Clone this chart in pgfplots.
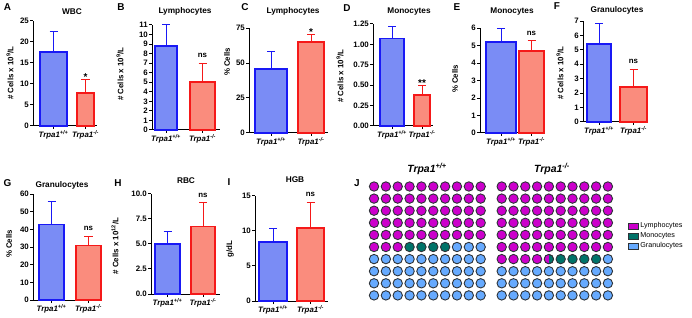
\documentclass[border=0pt]{standalone}
\usepackage{fontspec}
\setmainfont{Liberation Sans}
\usepackage{pgfplots}
\pgfplotsset{compat=1.18}
\usetikzlibrary{plotmarks}
\pgfdeclareplotmark{lefthalf}{%
  \pgfpathmoveto{\pgfqpoint{0pt}{\pgfplotmarksize}}%
  \pgfpatharc{90}{270}{\pgfplotmarksize}%
  \pgfpathclose
  \pgfusepathqfill}
\definecolor{bfill}{RGB}{122,140,245}
\definecolor{bedge}{RGB}{25,25,245}
\definecolor{rfill}{RGB}{250,140,125}
\definecolor{redge}{RGB}{245,25,25}
\definecolor{magC}{RGB}{204,0,204}
\definecolor{tealC}{RGB}{0,115,105}
\definecolor{lbC}{RGB}{102,170,255}
\definecolor{outC}{RGB}{45,50,55}
\pgfplotsset{
  barpanel/.style={
    scale only axis, anchor=south west, clip=false,
    axis lines=left, xmin=0, ymin=0,
    axis line style={-, black, line width=1bp},
    tick align=outside, major tick length=3bp,
    tick style={black, line width=1bp},
    tick label style={font=\bfseries\fontsize{7.9}{8}\selectfont},
    yticklabel style={inner sep=1bp},
    xticklabel style={inner sep=1.5bp},
    /pgf/number format/assume math mode=true,
    xticklabels={{\itshape Trpa1\textsuperscript{+/+}},{\itshape Trpa1\textsuperscript{-/-}}},
  },
  bluebar/.style={ybar, bar shift=0pt, fill=bfill, draw=bedge, line width=1.6bp,
    error bars/y dir=plus, error bars/y explicit,
    error bars/error bar style={bedge, line width=1bp},
    error bars/error mark options={bedge, line width=1bp, mark size=4bp, rotate=90}},
  redbar/.style={ybar, bar shift=0pt, fill=rfill, draw=redge, line width=1.6bp,
    error bars/y dir=plus, error bars/y explicit,
    error bars/error bar style={redge, line width=1bp},
    error bars/error mark options={redge, line width=1bp, mark size=4bp, rotate=90}},
  waffle/.style={scale only axis, anchor=south west, xmin=0.5, xmax=10.5, ymin=0.5, ymax=10.5,
    hide axis, clip=false},
}
\tikzset{
  sig/.style={font=\bfseries\fontsize{7.9}{8}\selectfont, anchor=base, inner sep=0pt, yshift=5.5bp},
  star/.style={font=\bfseries\fontsize{10}{10}\selectfont, anchor=base, inner sep=0pt, yshift=-1bp},
  plet/.style={font=\bfseries\fontsize{10}{12}\selectfont, anchor=base, inner sep=0pt},
  ptit/.style={font=\bfseries\fontsize{8.3}{10}\selectfont, anchor=base, inner sep=0pt},
  ylab/.style={font=\bfseries\fontsize{7.9}{9}\selectfont, rotate=90, inner sep=0pt},
}
\begin{document}
\begin{tikzpicture}
\useasboundingbox (0,0) rectangle (692bp,318bp);
% A
\begin{axis}[barpanel, at={(33bp,192bp)}, width=64bp, height=105bp, xmax=64, ymax=25,
  ytick={0,5,10,15,20,25}, xtick={20.5,52.5}]
\addplot[bluebar, bar width=27] coordinates {(20.5,17.6) +- (0,4.9)};
\addplot[redbar, bar width=17] coordinates {(52.5,7.8) +- (0,3.2)};
\node[star] at (axis cs:52.5,11.0) {*};
\end{axis}
% B
\begin{axis}[barpanel, at={(152bp,188bp)}, width=68bp, height=105bp, xmax=68, ymax=11,
  ytick={0,1,2,3,4,5,6,7,8,9,10,11}, xtick={14,50.5}]
\addplot[bluebar, bar width=22] coordinates {(14,8.8) +- (0,2.2)};
\addplot[redbar, bar width=25] coordinates {(50.5,5.0) +- (0,2.0)};
\node[sig] at (axis cs:50.5,7.0) {ns};
\end{axis}
% C
\begin{axis}[barpanel, at={(249bp,185bp)}, width=79bp, height=105bp, xmax=79, ymax=75,
  ytick={0,25,50,75}, xtick={22,62}]
\addplot[bluebar, bar width=32] coordinates {(22,45.7) +- (0,12.2)};
\addplot[redbar, bar width=26] coordinates {(62,65.0) +- (0,5.7)};
\node[star] at (axis cs:62,70.7) {*};
\end{axis}
% D
\begin{axis}[barpanel, at={(373bp,192bp)}, width=60bp, height=102bp, xmax=60, ymax=1.25,
  ytick={0,0.25,0.5,0.75,1,1.25}, yticklabel style={/pgf/number format/.cd, fixed, fixed zerofill, precision=2},
  xtick={19,49}]
\addplot[bluebar, bar width=24] coordinates {(19,1.07) +- (0,0.145)};
\addplot[redbar, bar width=16] coordinates {(49,0.38) +- (0,0.12)};
\node[star] at (axis cs:49,0.50) {**};
\end{axis}
% E
\begin{axis}[barpanel, at={(480bp,185bp)}, width=65bp, height=105bp, xmax=65, ymax=6,
  ytick={0,1,2,3,4,5,6}, xtick={21,51.5}]
\addplot[bluebar, bar width=30] coordinates {(21,5.2) +- (0,0.77)};
\addplot[redbar, bar width=25] coordinates {(51.5,4.7) +- (0,0.56)};
\node[sig] at (axis cs:51.5,5.26) {ns};
\end{axis}
% F
\begin{axis}[barpanel, at={(583bp,196bp)}, width=65bp, height=101bp, xmax=65, ymax=7,
  ytick={0,1,2,3,4,5,6,7}, xtick={16,50.5}]
\addplot[bluebar, bar width=24] coordinates {(16,5.4) +- (0,1.4)};
\addplot[redbar, bar width=27] coordinates {(50.5,2.43) +- (0,1.22)};
\node[sig] at (axis cs:50.5,3.65) {ns};
\end{axis}
% G
\begin{axis}[barpanel, at={(33bp,18bp)}, width=69bp, height=106bp, xmax=69, ymax=60,
  ytick={0,10,20,30,40,50,60}, xtick={18.5,55.5}]
\addplot[bluebar, bar width=25] coordinates {(18.5,42.8) +- (0,12.9)};
\addplot[redbar, bar width=25] coordinates {(55.5,30.8) +- (0,5.3)};
\node[sig] at (axis cs:55.5,36.1) {ns};
\end{axis}
% H
\begin{axis}[barpanel, at={(151bp,24bp)}, width=69bp, height=100bp, xmax=69, ymax=10,
  ytick={0,2.5,5,7.5,10}, yticklabel style={/pgf/number format/.cd, fixed, fixed zerofill, precision=1},
  xtick={16.5,52}]
\addplot[bluebar, bar width=25] coordinates {(16.5,5.0) +- (0,1.2)};
\addplot[redbar, bar width=24] coordinates {(52,6.75) +- (0,2.35)};
\node[sig] at (axis cs:52,9.1) {ns};
\end{axis}
% I
\begin{axis}[barpanel, at={(255bp,17bp)}, width=73bp, height=105bp, xmax=73, ymax=15,
  ytick={0,5,10,15}, xtick={18,55.5}]
\addplot[bluebar, bar width=28] coordinates {(18,8.43) +- (0,1.87)};
\addplot[redbar, bar width=27] coordinates {(55.5,10.4) +- (0,3.7)};
\node[sig] at (axis cs:55.5,14.1) {ns};
\end{axis}
% J left waffle
\begin{axis}[waffle, at={(368.1bp,16.55bp)}, width=118.5bp, height=121bp]
\addplot[only marks, mark=*, mark size=4.7bp, mark options={fill=magC, draw=outC, line width=0.9bp}] coordinates {
(1,10)(2,10)(3,10)(4,10)(5,10)(6,10)(7,10)(8,10)(9,10)(10,10)
(1,9)(2,9)(3,9)(4,9)(5,9)(6,9)(7,9)(8,9)(9,9)(10,9)
(1,8)(2,8)(3,8)(4,8)(5,8)(6,8)(7,8)(8,8)(9,8)(10,8)
(1,7)(2,7)(3,7)(4,7)(5,7)(6,7)(7,7)(8,7)(9,7)(10,7)
(1,6)(2,6)(3,6)(4,6)(5,6)(6,6)(7,6)(8,6)(9,6)(10,6)
(1,5)(2,5)(3,5)};
\addplot[only marks, mark=*, mark size=4.7bp, mark options={fill=tealC, draw=outC, line width=0.9bp}] coordinates {
(4,5)(5,5)(6,5)(7,5)};
\addplot[only marks, mark=*, mark size=4.7bp, mark options={fill=lbC, draw=outC, line width=0.9bp}] coordinates {
(8,5)(9,5)(10,5)
(1,4)(2,4)(3,4)(4,4)(5,4)(6,4)(7,4)(8,4)(9,4)(10,4)
(1,3)(2,3)(3,3)(4,3)(5,3)(6,3)(7,3)(8,3)(9,3)(10,3)
(1,2)(2,2)(3,2)(4,2)(5,2)(6,2)(7,2)(8,2)(9,2)(10,2)
(1,1)(2,1)(3,1)(4,1)(5,1)(6,1)(7,1)(8,1)(9,1)(10,1)};
\end{axis}
% J right waffle
\begin{axis}[waffle, at={(495.8bp,16.55bp)}, width=118bp, height=121bp,
  legend style={at={(1.12,0.541)}, anchor=west, draw=none, fill=none,
    font=\fontsize{7.2}{8}\selectfont, inner sep=0pt, row sep=0.5bp, nodes={inner sep=1.5bp}},
  legend cell align=left,
  legend image code/.code={\draw[#1] (0bp,-3bp) rectangle (10bp,3bp);}]
\addlegendimage{fill=magC, draw=outC, line width=0.7bp}
\addlegendentry{Lymphocytes}
\addlegendimage{fill=tealC, draw=outC, line width=0.7bp}
\addlegendentry{Monocytes}
\addlegendimage{fill=lbC, draw=outC, line width=0.7bp}
\addlegendentry{Granulocytes}
\addplot[forget plot, only marks, mark=*, mark size=4.7bp, mark options={fill=magC, draw=outC, line width=0.9bp}] coordinates {
(1,10)(2,10)(3,10)(4,10)(5,10)(6,10)(7,10)(8,10)(9,10)(10,10)
(1,9)(2,9)(3,9)(4,9)(5,9)(6,9)(7,9)(8,9)(9,9)(10,9)
(1,8)(2,8)(3,8)(4,8)(5,8)(6,8)(7,8)(8,8)(9,8)(10,8)
(1,7)(2,7)(3,7)(4,7)(5,7)(6,7)(7,7)(8,7)(9,7)(10,7)
(1,6)(2,6)(3,6)(4,6)(5,6)(6,6)(7,6)(8,6)(9,6)(10,6)
(1,5)(2,5)(3,5)(4,5)(5,5)(6,5)(7,5)(8,5)(9,5)(10,5)
(1,4)(2,4)(3,4)(4,4)};
\addplot[forget plot, only marks, mark=*, mark size=4.7bp, mark options={fill=tealC, draw=none}] coordinates {(5,4)};
\addplot[forget plot, only marks, mark=lefthalf, mark size=4.7bp, mark options={fill=magC, draw=none}] coordinates {(5,4)};
\addplot[forget plot, only marks, mark=o, mark size=4.7bp, mark options={draw=outC, line width=0.9bp}] coordinates {(5,4)};
\addplot[forget plot, only marks, mark=*, mark size=4.7bp, mark options={fill=tealC, draw=outC, line width=0.9bp}] coordinates {
(6,4)(7,4)(8,4)(9,4)};
\addplot[forget plot, only marks, mark=*, mark size=4.7bp, mark options={fill=lbC, draw=outC, line width=0.9bp}] coordinates {
(10,4)
(1,3)(2,3)(3,3)(4,3)(5,3)(6,3)(7,3)(8,3)(9,3)(10,3)
(1,2)(2,2)(3,2)(4,2)(5,2)(6,2)(7,2)(8,2)(9,2)(10,2)
(1,1)(2,1)(3,1)(4,1)(5,1)(6,1)(7,1)(8,1)(9,1)(10,1)};
\end{axis}
% panel letters
\node[plet] at (7.5bp,307.5bp) {A};
\node[plet] at (121bp,307.5bp) {B};
\node[plet] at (245bp,307.5bp) {C};
\node[plet] at (347bp,306.5bp) {D};
\node[plet] at (457bp,307.5bp) {E};
\node[plet] at (557bp,308.5bp) {F};
\node[plet] at (7.5bp,131.5bp) {G};
\node[plet] at (118bp,131.5bp) {H};
\node[plet] at (229bp,132.5bp) {I};
\node[plet] at (357bp,131.5bp) {J};
% titles
\node[ptit] at (72bp,303.5bp) {WBC};
\node[ptit] at (185bp,304bp) {Lymphocytes};
\node[ptit] at (293bp,304bp) {Lymphocytes};
\node[ptit] at (409bp,304bp) {Monocytes};
\node[ptit] at (512bp,304bp) {Monocytes};
\node[ptit] at (617bp,305bp) {Granulocytes};
\node[ptit] at (62bp,130bp) {Granulocytes};
\node[ptit] at (186bp,134bp) {RBC};
\node[ptit] at (295bp,135bp) {HGB};
\node[font=\bfseries\itshape\fontsize{10.5}{12}\selectfont, anchor=base, inner sep=0pt] at (427bp,145.5bp) {Trpa1\textsuperscript{+/+}};
\node[font=\bfseries\itshape\fontsize{10.5}{12}\selectfont, anchor=base, inner sep=0pt] at (552bp,145.5bp) {Trpa1\textsuperscript{-/-}};
% y labels
\node[ylab] at (10bp,245bp) {\# Cells x 10\textsuperscript{9}/L};
\node[ylab] at (120bp,244bp) {\# Cells x 10\textsuperscript{9}/L};
\node[ylab] at (227bp,256bp) {\% Cells};
\node[ylab] at (340bp,242bp) {\# Cells x 10\textsuperscript{9}/L};
\node[ylab] at (455bp,239bp) {\% Cells};
\node[ylab] at (560bp,245bp) {\# Cells x 10\textsuperscript{9}/L};
\node[ylab] at (9bp,74bp) {\% Cells};
\node[ylab] at (115bp,72bp) {\# Cells x 10\textsuperscript{12}/L};
\node[ylab] at (230bp,69bp) {g/dL};
\end{tikzpicture}
\end{document}
